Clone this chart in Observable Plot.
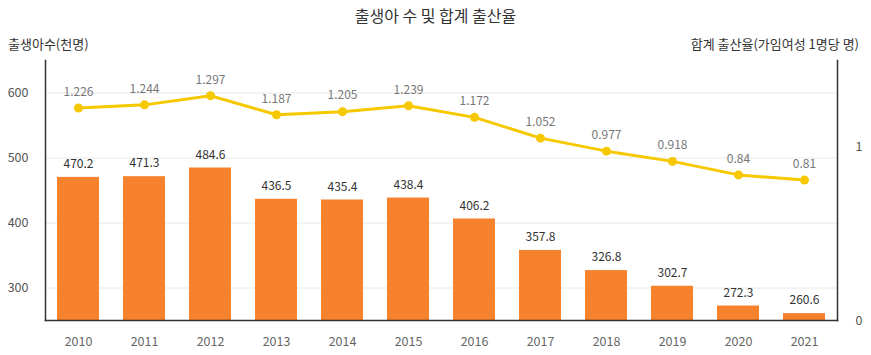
<!DOCTYPE html>
<html>
<head>
<meta charset="utf-8">
<script src="https://cdn.jsdelivr.net/npm/d3@7"></script>
<script src="https://cdn.jsdelivr.net/npm/@observablehq/plot@0.6"></script>
<style>
  html, body { margin: 0; padding: 0; background: #fff; }
  #wrap { position: relative; width: 871px; height: 355px; font-family: "Noto Sans CJK KR", "Noto Sans", sans-serif; }
  .lbl { position: absolute; white-space: nowrap; color: #333; }
</style>
</head>
<body>
<div id="wrap">
  <div class="lbl" style="left:0;width:871px;top:3px;text-align:center;font-size:16px;color:#333;">출생아 수 및 합계 출산율</div>
  <div class="lbl" style="left:8px;top:34px;font-size:13px;">출생아수(천명)</div>
  <div class="lbl" style="right:12px;top:34px;font-size:13px;">합계 출산율(가임여성 1명당 명)</div>
</div>
<script>
const years = ["2010","2011","2012","2013","2014","2015","2016","2017","2018","2019","2020","2021"];
const births = [470.2, 471.3, 484.6, 436.5, 435.4, 438.4, 406.2, 357.8, 326.8, 302.7, 272.3, 260.6];
const fertility = [1.226, 1.244, 1.297, 1.187, 1.205, 1.239, 1.172, 1.052, 0.977, 0.918, 0.84, 0.81];
const leftTicks = [300, 400, 500, 600];
const rightTicks = [0, 1];

const yMin = 250, yMax = 650, rMax = 1.5;
const toLeft = r => yMin + r / rMax * (yMax - yMin);
const fromLeft = v => (v - yMin) / (yMax - yMin) * rMax;

const data = years.map((y, i) => ({year: y, births: births[i], rate: fertility[i], rateY: toLeft(fertility[i])}));

const barColor = "#F7822E";
const lineColor = "#F6C800";

const chart = Plot.plot({
  width: 871,
  height: 355,
  marginLeft: 45,
  marginRight: 34,
  marginTop: 60,
  marginBottom: 35,
  style: {fontFamily: "'Noto Sans CJK KR', 'Noto Sans', sans-serif", fontSize: "12px", background: "transparent"},
  x: {domain: years, paddingInner: 0.36, paddingOuter: 0.18, label: null},
  y: {domain: [yMin, yMax], label: null},
  marks: [
    Plot.ruleY(leftTicks, {stroke: "#e8e8e8"}),
    Plot.barY(data, {x: "year", y1: () => yMin, y2: "births", fill: barColor}),
    Plot.text(data, {x: "year", y: "births", text: d => d.births.toFixed(1), dy: -13, fill: "#333", fontSize: 12}),
    Plot.line(data, {x: "year", y: "rateY", stroke: lineColor, strokeWidth: 3}),
    Plot.dot(data, {x: "year", y: "rateY", r: 4.5, fill: lineColor}),
    Plot.text(data, {x: "year", y: "rateY", text: d => String(d.rate), dy: -16, fill: "#777", fontSize: 12}),
    Plot.axisY({anchor: "left", ticks: leftTicks, tickSize: 0, tickPadding: 17, fill: "#555", fontSize: 12.5, label: null}),
    Plot.axisY({anchor: "right", ticks: rightTicks.map(toLeft), tickFormat: v => String(Math.round(fromLeft(v))), tickSize: 0, tickPadding: 18, fill: "#555", fontSize: 12.5, label: null}),
    Plot.axisX({anchor: "bottom", tickSize: 0, tickPadding: 17, fill: "#666", fontSize: 12.5, label: null}),
    Plot.frame({anchor: "left", stroke: "#333", strokeWidth: 1.5}),
    Plot.frame({anchor: "right", stroke: "#333", strokeWidth: 1.5}),
    Plot.frame({anchor: "bottom", stroke: "#333", strokeWidth: 1.5})
  ]
});
chart.style.position = "absolute";
chart.style.left = "0";
chart.style.top = "0";
document.getElementById("wrap").appendChild(chart);
</script>
</body>
</html>
